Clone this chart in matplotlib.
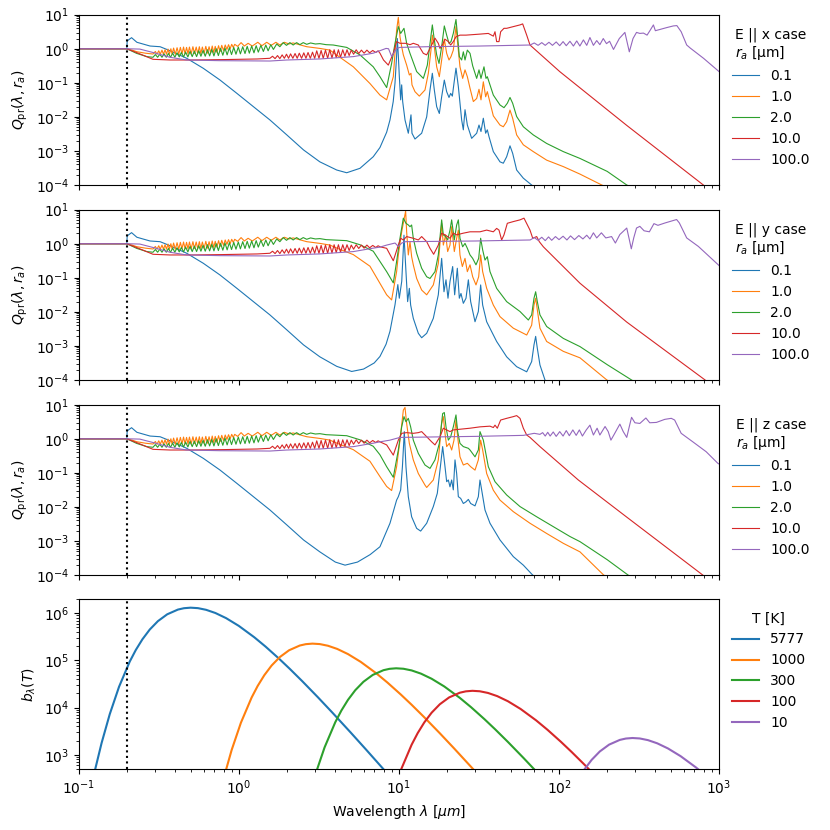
import matplotlib
matplotlib.use("Agg")
import matplotlib.pyplot as plt
import numpy as np

radii = ["0.1", "1.0", "2.0", "10.0", "100.0"]
temps = ["5777", "1000", "300", "100", "10"]
cases = ["x", "y", "z"]

# Q_pr curves as (wavelength [um], log10 Q_pr)
# short-wavelength part, same for the three cases
blue_short = [(0.1, 0), (0.199, 0), (0.2, 0.23), (0.213, 0.325), (0.23, 0.19), (0.278, 0.08),
              (0.321, 0.06), (0.37, -0.057), (0.471, -0.28), (0.598, -0.574), (0.76, -0.917),
              (0.97, -1.31), (1.23, -1.70), (1.56, -2.09), (1.99, -2.53), (2.53, -2.97), (3.2, -3.32)]

orange_short = [(0.1, 0), (0.199, 0), (0.215, -0.04), (0.229, -0.086), (0.26, -0.13), (0.29, -0.155),
                (0.300, -0.08), (0.307, -0.16), (0.315, -0.06), (0.322, -0.16), (0.330, -0.04), (0.337, -0.16),
                (0.345, -0.03), (0.352, -0.16), (0.360, -0.01), (0.367, -0.16), (0.375, 0.0), (0.382, -0.16),
                (0.390, 0.02), (0.400, -0.16), (0.410, 0.03), (0.420, -0.16), (0.430, 0.04), (0.440, -0.15),
                (0.450, 0.05), (0.460, -0.15), (0.470, 0.04), (0.480, -0.15), (0.490, 0.05), (0.502, -0.15),
                (0.515, 0.06), (0.527, -0.14), (0.540, 0.05), (0.552, -0.14), (0.565, 0.06), (0.577, -0.14),
                (0.590, 0.05), (0.605, -0.13), (0.620, 0.07), (0.635, -0.13), (0.650, 0.06), (0.665, -0.12),
                (0.680, 0.08), (0.695, -0.11), (0.710, 0.07), (0.727, -0.10), (0.745, 0.09), (0.762, -0.08),
                (0.780, 0.10), (0.80, -0.05), (0.82, 0.11), (0.84, -0.02), (0.86, 0.12), (0.88, 0.0),
                (0.90, 0.13), (0.92, 0.04), (0.94, 0.13), (0.98, 0.07), (1.03, 0.18), (1.08, 0.08),
                (1.14, 0.16), (1.21, 0.08), (1.31, 0.19), (1.39, 0.09), (1.49, 0.19), (1.59, 0.10),
                (1.7, 0.19), (1.8, 0.11), (1.92, 0.19), (2.05, 0.14), (2.18, 0.17), (2.65, 0.06),
                (3.2, 0.01), (3.7, -0.04)]

green_short = [(0.1, 0), (0.199, 0), (0.229, -0.135), (0.265, -0.23), (0.29, -0.25),
               (0.300, -0.17), (0.310, -0.25), (0.320, -0.16), (0.330, -0.25), (0.340, -0.15), (0.351, -0.25),
               (0.362, -0.14), (0.373, -0.25), (0.385, -0.13), (0.397, -0.25), (0.410, -0.12), (0.423, -0.24),
               (0.436, -0.11), (0.450, -0.24), (0.464, -0.10), (0.479, -0.24), (0.494, -0.08), (0.510, -0.23),
               (0.526, -0.07), (0.543, -0.23), (0.560, -0.06), (0.578, -0.22), (0.596, -0.05), (0.615, -0.22),
               (0.635, -0.03), (0.655, -0.21), (0.676, -0.02), (0.697, -0.21), (0.72, 0.0), (0.743, -0.20),
               (0.767, 0.01), (0.792, -0.19), (0.817, 0.02), (0.843, -0.18), (0.870, 0.03), (0.898, -0.17),
               (0.927, 0.04), (0.957, -0.16), (0.99, 0.05), (1.02, -0.15), (1.055, 0.06), (1.09, -0.14),
               (1.125, 0.07), (1.16, -0.13), (1.2, 0.08), (1.24, -0.12), (1.28, 0.09), (1.32, -0.10),
               (1.37, 0.10), (1.42, -0.08), (1.47, 0.11), (1.52, -0.06), (1.58, 0.12), (1.64, -0.02),
               (1.72, 0.14), (1.8, 0.06), (1.89, 0.18), (1.98, 0.10), (2.08, 0.18), (2.18, 0.11),
               (2.29, 0.18), (2.4, 0.12), (2.52, 0.18), (2.65, 0.13), (2.8, 0.17), (3.0, 0.14),
               (3.2, 0.15), (3.5, 0.12), (3.88, 0.11)]

red_short = [(0.1, 0), (0.199, 0), (0.23, -0.115), (0.29, -0.31), (0.37, -0.33), (0.5, -0.33),
             (0.76, -0.32), (1.0, -0.31), (1.3, -0.30), (1.56, -0.28),
             (1.62, -0.22), (1.68, -0.29), (1.74, -0.20), (1.8, -0.29), (1.86, -0.18), (1.92, -0.28),
             (1.98, -0.16), (2.04, -0.28), (2.1, -0.15), (2.17, -0.28), (2.24, -0.14), (2.31, -0.28),
             (2.38, -0.13), (2.46, -0.28), (2.54, -0.12), (2.62, -0.28), (2.7, -0.11), (2.79, -0.28),
             (2.88, -0.10), (2.97, -0.28), (3.06, -0.06), (3.16, -0.28), (3.26, -0.05), (3.36, -0.28),
             (3.47, -0.04), (3.58, -0.28), (3.69, -0.03), (3.81, -0.27), (3.93, -0.03), (4.05, -0.26),
             (4.18, -0.03), (4.31, -0.25), (4.45, -0.03), (4.59, -0.22), (4.73, -0.03), (4.88, -0.20),
             (5.03, -0.04), (5.2, -0.16), (5.4, -0.03), (5.6, -0.14), (5.82, -0.04), (6.05, -0.13),
             (6.3, -0.04), (6.55, -0.12), (6.85, -0.05), (7.15, -0.11), (7.4, -0.06)]

purple_short = [(0.1, 0), (0.2, 0), (0.24, -0.01), (0.29, -0.11), (0.37, -0.25), (0.47, -0.33),
                (0.76, -0.35), (1.56, -0.36), (1.99, -0.33), (3.2, -0.30), (5.2, -0.23), (6.9, -0.13)]

# E || x
x_blue = [(4.08, -3.56), (4.71, -3.64), (5.7, -3.51), (6.9, -3.17), (7.6, -2.9), (8.37, -2.45),
          (8.78, -2.09), (9.2, -1.55), (9.44, -1.0), (9.66, -0.2), (9.76, 0.30), (9.9, -0.2),
          (10.04, -0.8), (10.24, -1.5), (10.39, -1.06), (10.54, -1.55), (10.9, -2.09), (11.43, -2.48),
          (11.88, -1.94), (12.05, -2.48), (12.58, -2.65), (13.85, -2.48), (14.89, -2.0), (15.62, -1.21),
          (16.15, -0.72), (16.62, -1.21), (17.19, -1.70), (17.86, -1.9), (18.47, -1.41), (19.19, -0.92),
          (19.85, -1.26), (20.53, -1.43), (21.03, -1.31), (21.54, -1.39), (22.06, -1.01), (22.7, -0.57),
          (23.48, -1.11), (24.63, -2.09), (25.23, -2.38), (25.85, -1.79), (26.73, -2.24), (28.44, -2.63),
          (30.57, -2.48), (31.61, -2.24), (32.53, -2.43), (33.64, -2.04), (34.79, -2.48), (35.63, -2.38),
          (36.5, -2.58), (38.85, -3.02), (42.76, -3.32), (44.86, -3.36), (47.07, -3.17), (49.38, -2.85),
          (51.31, -3.07), (54.35, -3.56), (59.83, -3.80), (67.45, -4.0), (80, -4.3)]
x_orange = [(4.07, -0.18), (5.18, -0.53), (6.58, -1.02), (7.6, -1.36), (8.37, -1.5), (9.21, -0.82),
            (9.66, 0.55), (9.9, 0.92), (10.14, 0.35), (10.39, 0.06), (10.64, -0.18), (11.16, -0.48),
            (11.6, -0.77), (11.88, -0.72), (12.05, -1.06), (12.58, -1.26), (13.39, -1.39), (14.53, -1.21),
            (15.25, -0.72), (15.84, -0.04), (16.15, 0.40), (16.62, 0.06), (17.19, -0.53), (17.86, -0.82),
            (18.47, -0.33), (19.19, 0.28), (19.85, -0.135), (20.53, -0.33), (21.13, -0.23), (21.84, -0.04),
            (22.7, 0.65), (23.25, 0.16), (24.04, -0.53), (24.99, -0.87), (25.85, -0.62), (26.73, -0.82),
            (27.78, -1.16), (29.14, -1.55), (30.57, -1.46), (31.61, -1.19), (32.53, -1.5), (33.64, -0.97),
            (34.79, -1.41), (35.63, -1.26), (36.5, -1.46), (38.85, -1.97), (42.76, -2.24), (44.86, -2.29),
            (47.07, -2.14), (49.38, -1.8), (51.31, -2.04), (54.35, -2.53), (59.83, -2.82), (69.07, -3.02),
            (83.7, -3.27), (106.4, -3.46), (135.2, -3.68), (185, -4.0), (230, -4.2)]
x_green = [(4.71, 0.04), (5.7, -0.18), (6.9, -0.53), (7.6, -0.82), (8.37, -1.14), (8.99, -0.43),
           (9.44, 0.16), (9.9, 0.65), (10.24, 0.45), (10.74, 0.60), (11.16, 0.16), (11.71, -0.135),
           (12.89, -0.67), (14.19, -0.87), (15.03, -0.48), (15.62, 0.16), (16.15, 0.70), (16.62, 0.26),
           (17.19, -0.18), (17.78, -0.43), (18.47, 0.06), (19.19, 0.67), (19.85, 0.40), (20.53, 0.16),
           (21.13, 0.21), (21.84, 0.45), (22.7, 0.86), (23.25, 0.35), (23.82, -0.23), (24.63, -0.33),
           (25.23, -0.09), (25.85, -0.33), (26.73, -0.04), (27.78, -0.135), (28.86, -0.5), (30.57, -0.87),
           (31.61, -0.62), (32.53, -0.87), (33.96, -0.53), (34.96, -0.87), (35.63, -0.82), (36.5, -0.97),
           (38.85, -1.36), (42.76, -1.65), (45.29, -1.73), (47.52, -1.6), (49.38, -1.43), (51.31, -1.6),
           (54.35, -1.99), (59.83, -2.29), (69.07, -2.53), (83.7, -2.78), (106.4, -3.02), (135.2, -3.22),
           (200, -3.6), (265, -4.0), (330, -4.2)]
x_red = [(7.6, -0.13), (8.0, -0.33), (8.57, -0.48), (9.21, -0.135), (9.66, 0.21), (10.14, 0.16),
         (11.0, 0.16), (11.71, 0.12), (12.28, 0.16), (13.2, 0.11), (14.19, -0.135), (14.89, -0.18),
         (15.62, 0.01), (16.38, 0.21), (16.78, 0.31), (17.6, 0.16), (18.03, 0.01), (18.65, 0.11),
         (19.38, 0.28), (20.33, 0.21), (21.03, 0.11), (21.84, 0.21), (22.7, 0.35), (24.04, 0.40),
         (26.22, 0.40), (32.06, 0.43), (36.15, 0.45), (38.85, 0.37), (39.8, 0.50), (40.75, 0.21),
         (42.15, 0.21), (43.17, 0.50), (45.29, 0.60), (47.07, 0.60), (51.8, 0.65), (57.02, 0.70),
         (59.26, 0.73), (62.8, 0.40), (65.85, 0.11), (101, -0.67), (265, -2.25), (798, -4.0), (1000, -4.35)]
x_purple = [(8.3, 0.01), (8.6, 0.0), (9.0, -0.23), (9.66, 0.01), (10.14, 0.04), (15, 0.06), (32, 0.08),
            (66, 0.11), (70, 0.17), (74, 0.10), (78, 0.18), (82, 0.10), (86.5, 0.19), (91, 0.10), (96, 0.20),
            (101, 0.09), (106, 0.21), (111, 0.09), (117, 0.22), (123, 0.08), (129, 0.23), (135, 0.08),
            (142, 0.26), (149, 0.10), (156, 0.33), (164, 0.10), (172, 0.24), (180, 0.12), (189, 0.30),
            (198, 0.15), (207, 0.22), (219, -0.02), (238, 0.30), (258, 0.48), (275, -0.09), (290, 0.30),
            (305, 0.48), (320, 0.45), (337, 0.46), (355, 0.40), (372, 0.55), (389, 0.70), (400, 0.53),
            (430, 0.57), (470, 0.62), (518, 0.67), (545, 0.68), (580, 0.50), (628, 0.11), (661, 0.02),
            (800, -0.28), (1000, -0.67)]

# E || y
y_blue = [(4.08, -3.6), (5.06, -3.75), (6.0, -3.68), (7.0, -3.5), (7.6, -3.31), (8.3, -2.95), (8.78, -2.57),
          (9.44, -1.79), (9.83, -1.2), (10.04, -1.6), (10.4, -1.1), (10.74, 0.25), (11.05, -0.82),
          (11.32, -1.7), (11.6, -1.31), (11.82, -1.8), (12.28, -2.19), (13.2, -2.63), (13.85, -2.76),
          (14.89, -2.63), (16.38, -2.19), (17.6, -1.50), (18.47, -0.43), (19.1, -1.41), (19.66, -1.06),
          (20.23, -1.6), (20.82, -1.11), (21.64, -0.67), (22.27, -1.5), (23.14, -0.72), (23.82, -1.6),
          (24.39, -1.46), (25.23, -1.75), (26.22, -1.6), (27.12, -1.06), (28.04, -1.70), (29.85, -2.29),
          (31.31, -1.99), (32.37, -1.21), (33.32, -1.80), (35.3, -2.29), (40.75, -2.87), (47.07, -3.32),
          (54.35, -3.61), (62.8, -3.76), (67.45, -3.46), (69.75, -2.97), (71.44, -2.72), (73.17, -3.07),
          (76.0, -3.56), (81.7, -4.0), (90, -4.3)]
y_orange = [(4.07, -0.125), (5.18, -0.32), (6.58, -0.66), (7.6, -1.16), (8.37, -1.5), (8.99, -1.65),
            (9.66, -0.82), (9.9, -0.33), (10.39, 0.35), (11.0, 0.96), (11.16, 0.35), (11.43, -0.33),
            (11.71, 0.06), (11.99, -0.38), (12.28, -0.62), (12.89, -1.02), (13.85, -1.36), (14.89, -1.5),
            (16.38, -1.21), (17.6, -0.58), (18.47, 0.60), (18.92, -0.04), (19.56, 0.26), (20.14, -0.23),
            (20.82, -0.04), (21.33, 0.50), (22.16, -0.23), (22.92, 0.16), (23.48, 0.40), (24.04, -0.33),
            (24.87, -0.67), (25.85, -0.43), (26.73, -0.82), (27.78, -0.62), (28.86, -0.97), (30.27, -1.21),
            (31.46, -0.97), (32.37, -0.33), (33.32, -0.82), (35.3, -1.31), (38.85, -1.80), (42.76, -2.14),
            (51.8, -2.48), (62.8, -2.68), (67.45, -2.39), (69.75, -1.80), (71.44, -1.6), (73.5, -2.0),
            (76.0, -2.48), (83.7, -2.87), (106.4, -3.16), (135.2, -3.35), (199, -4.0), (250, -4.25)]
y_green = [(4.71, 0.09), (5.7, -0.03), (6.9, -0.22), (7.6, -0.52), (8.37, -0.82), (9.21, -1.15),
           (9.66, -0.52), (10.14, 0.16), (10.64, 0.75), (11.05, 0.60), (11.43, 0.55), (11.71, 0.50),
           (11.99, 0.55), (12.28, 0.16), (12.89, -0.28), (13.85, -0.72), (14.89, -0.97), (15.62, -1.02),
           (16.78, -0.82), (17.6, -0.33), (18.47, 0.70), (18.92, 0.26), (19.56, 0.21), (20.14, 0.11),
           (20.82, 0.40), (21.33, 0.70), (22.16, 0.11), (22.92, 0.55), (23.48, 0.70), (24.04, 0.16),
           (24.99, -0.09), (25.85, 0.01), (26.73, -0.135), (27.78, -0.33), (28.86, -0.43), (30.27, -0.62),
           (31.46, -0.43), (32.37, 0.16), (33.32, -0.18), (34.46, -0.48), (35.63, -0.38), (37.03, -0.82),
           (40.75, -1.31), (47.07, -1.70), (57.02, -1.99), (64.3, -2.24), (67.45, -2.09), (69.75, -1.60),
           (71.44, -1.41), (73.17, -1.70), (76.0, -2.09), (83.7, -2.43), (106.4, -2.78), (135.2, -3.02),
           (200, -3.55), (284, -4.0), (350, -4.25)]
y_red = [(7.6, -0.09), (8.37, -0.135), (9.21, -0.5), (9.9, -0.04), (10.24, 0.16), (10.64, 0.11),
         (11.16, 0.21), (12.28, 0.16), (13.2, 0.11), (13.85, 0.21), (14.89, 0.06), (15.62, -0.135),
         (16.46, -0.31), (17.6, -0.04), (18.47, 0.31), (19.38, 0.26), (20.82, 0.16), (21.84, 0.31),
         (22.92, 0.26), (25.23, 0.31), (27.78, 0.35), (32.06, 0.35), (35.3, 0.40), (38.85, 0.35),
         (40.75, 0.45), (42.15, 0.40), (43.79, 0.11), (45.29, 0.26), (47.52, 0.60), (51.8, 0.65),
         (57.02, 0.70), (60.4, 0.75), (65.85, 0.40), (68.5, 0.16), (72.5, 0.21), (75.3, 0.06),
         (79.8, -0.09), (135.2, -1.16), (265, -2.3), (818, -4.0), (1000, -4.35)]
y_purple = [(7.6, -0.10), (8.37, -0.04), (9.44, 0.02), (9.9, -0.08), (10.4, 0.02), (11, 0.06), (30, 0.08),
            (66, 0.11), (70, 0.18), (74, 0.10), (78, 0.19), (82, 0.09), (86, 0.20), (90, 0.10), (95, 0.21),
            (100, 0.12), (106, 0.22), (112, 0.11), (118, 0.23), (125, 0.12), (133, 0.24), (141, 0.14),
            (149, 0.25), (156, 0.14), (164, 0.32), (172, 0.17), (184, 0.32), (196, 0.17), (213, 0.21),
            (225, 0.02), (240, 0.27), (265, 0.46), (275, 0.12), (283, -0.15), (293, 0.17), (305, 0.46),
            (320, 0.51), (340, 0.38), (367, 0.35), (392, 0.59), (415, 0.54), (460, 0.61), (543, 0.71),
            (565, 0.61), (628, 0.17), (743, -0.08), (1000, -0.64)]

# E || z
z_blue = [(4.0, -3.62), (4.6, -3.71), (5.5, -3.62), (6.6, -3.4), (7.6, -3.17), (8.78, -2.48), (9.66, -1.80),
          (9.9, -1.70), (10.24, -1.5), (10.5, -0.82), (10.79, 0.21), (11.05, -0.82), (11.43, -1.70),
          (11.99, -2.29), (12.89, -2.63), (13.65, -2.71), (14.89, -2.48), (16.38, -1.99), (17.35, -1.60),
          (18.03, -0.92), (18.74, -0.23), (19.38, -0.82), (19.85, -1.26), (20.33, -1.21), (20.82, -1.41),
          (21.33, -1.21), (21.84, -1.5), (22.38, -0.62), (22.92, -1.02), (23.48, -1.70), (24.28, -1.75),
          (25.23, -1.90), (26.22, -1.85), (27.12, -1.78), (28.04, -1.90), (29.85, -1.97), (31.31, -1.70),
          (32.06, -1.21), (32.84, -1.5), (34.46, -2.09), (37.03, -2.48), (42.76, -2.97), (51.8, -3.46),
          (59.83, -3.71), (67.45, -3.97), (80, -4.3)]
z_orange = [(4.07, -0.125), (5.18, -0.32), (6.58, -0.66), (7.6, -1.11), (8.37, -1.4), (8.99, -1.52),
            (9.66, -0.82), (10.14, -0.04), (10.64, 0.84), (10.9, 0.92), (11.16, 0.45), (11.6, -0.135),
            (12.28, -0.62), (13.2, -1.02), (14.53, -1.36), (14.89, -1.43), (16.38, -1.21), (17.6, -0.62),
            (18.47, 0.45), (18.92, 0.65), (19.38, 0.16), (19.85, -0.23), (20.62, -0.135), (21.33, -0.33),
            (22.06, -0.04), (22.7, 0.55), (23.25, 0.06), (24.04, -0.53), (25.23, -0.77), (26.73, -0.72),
            (28.04, -0.82), (29.85, -0.92), (31.31, -0.62), (32.37, -0.04), (33.32, -0.33), (35.3, -1.02),
            (38.85, -1.51), (42.76, -1.80), (51.8, -2.14), (65.85, -2.48), (83.7, -2.78), (106.4, -3.07),
            (135.2, -3.32), (190, -4.0), (250, -4.3)]
z_green = [(4.71, 0.09), (5.7, -0.03), (6.9, -0.22), (7.6, -0.47), (8.37, -0.82), (9.21, -1.13),
           (9.9, -0.33), (10.39, 0.35), (10.74, 0.65), (11.05, 0.50), (11.43, 0.60), (11.82, 0.35),
           (12.28, -0.04), (13.2, -0.43), (14.53, -0.77), (15.62, -0.87), (16.78, -0.62), (17.86, -0.135),
           (18.74, 0.74), (19.19, 0.77), (19.66, 0.35), (20.33, -0.04), (21.03, 0.06), (21.84, 0.35),
           (22.7, 0.70), (23.25, 0.21), (24.04, -0.135), (25.23, -0.23), (27.12, -0.28), (27.78, -0.33),
           (29.85, -0.53), (31.31, -0.33), (32.06, 0.21), (33.64, -0.04), (36.15, -0.82), (39.8, -1.26),
           (47.07, -1.65), (57.02, -1.99), (72.5, -2.29), (92.1, -2.58), (117.1, -2.87), (135.2, -3.02),
           (200, -3.55), (270, -4.0), (340, -4.25)]
z_red = [(7.6, -0.09), (8.37, -0.18), (9.21, -0.48), (9.9, -0.04), (10.39, 0.16), (11.16, 0.18),
         (12.28, 0.16), (13.2, 0.18), (13.85, 0.21), (14.89, 0.06), (16.0, -0.09), (16.78, -0.18),
         (18.03, 0.06), (18.92, 0.31), (19.85, 0.26), (20.82, 0.21), (21.84, 0.26), (24.04, 0.28),
         (27.78, 0.31), (32.06, 0.35), (37.03, 0.37), (38.85, 0.33), (39.8, 0.40), (41.14, 0.31),
         (43.17, 0.55), (47.07, 0.60), (51.8, 0.65), (54.35, 0.68), (57.02, 0.60), (59.83, 0.31),
         (62.8, 0.11), (65.85, 0.04), (76, -0.23), (132, -1.21), (265, -2.3), (791, -4.0), (1000, -4.35)]
z_purple = [(7.6, -0.09), (8.78, -0.04), (10.14, 0.04), (30, 0.07), (60, 0.10), (70, 0.16), (76, 0.13),
            (79, 0.18), (82, 0.08), (85, 0.19), (88, 0.08), (92, 0.20), (96, 0.07), (101, 0.21), (106, 0.08),
            (111, 0.24), (116, 0.09), (122, 0.26), (128, 0.10), (134, 0.26), (140, 0.08), (148, 0.26),
            (156, 0.40), (164, 0.11), (173, 0.31), (180, 0.11), (194, 0.36), (203, 0.21), (211, -0.04),
            (220, 0.11), (240, 0.43), (252, 0.21), (265, 0.04), (275, 0.36), (284, 0.63), (298, 0.47),
            (320, 0.45), (349, 0.61), (369, 0.47), (406, 0.48), (458, 0.57), (503, 0.60), (528, 0.55),
            (580, 0.16), (686, -0.09), (831, -0.38), (983, -0.72), (1000, -0.74)]

# b_lambda(T): wavelength [um] and value
bb_wl_5777 = [0.1038, 0.1132, 0.1245, 0.1384, 0.1557, 0.1779, 0.2075, 0.2264, 0.2491, 0.2767, 0.3113,
              0.3558, 0.4151, 0.4528, 0.4981, 0.5535, 0.6226, 0.7116, 0.8302, 0.9962, 1.2453, 1.4650,
              1.7790, 2.0755, 2.4906, 3.1132, 3.8316, 4.9811, 6.2264, 8.3019, 9.9623]
bb_5777 = [18.6, 88.9, 407.7, 1779, 7294, 27643, 94508, 166268, 280636, 450500, 679707, 948227,
           1194432, 1276644, 1310395, 1281404, 1180957, 1010906, 787016, 539822, 309626, 196179,
           108811, 66296, 35975, 16528, 7834, 2978, 1287, 429.3, 212.5]
bb_wl_1000 = [0.7194, 0.7993, 0.8993, 1.0277, 1.1990, 1.3080, 1.4388, 1.5987, 1.7985, 2.0554, 2.3980,
              2.6160, 2.8776, 3.1973, 3.5970, 4.1109, 4.7960, 5.7552, 7.194, 8.4635, 10.277, 11.990,
              14.388, 17.985, 22.135, 28.776, 35.97, 47.96]
bb_1000 = [70.58, 307.9, 1262.6, 4785, 16359, 28781, 48578, 77982, 117657, 164138, 206756, 220987,
           226829, 221811, 204424, 174988, 136232, 93443, 53596, 33959, 18835, 11476, 6227, 2861,
           1356, 515.4, 222.8, 74.3]
bb_wl_300 = [2.398, 2.6644, 2.9975, 3.4257, 3.9967, 4.360, 4.796, 5.3289, 5.995, 6.8514, 7.9933, 8.720,
             9.592, 10.658, 11.990, 13.703, 15.987, 19.184, 23.98, 28.212, 34.257, 39.967, 47.96,
             59.95, 73.785, 95.92]
bb_300 = [21.17, 92.38, 378.8, 1435.5, 4907.8, 8634, 14573, 23394, 35297, 49241, 62027, 66296, 68049,
          66543, 61327, 52496, 40870, 28033, 16079, 10188, 5650.6, 3442.7, 1868.2, 858.3, 406.8, 154.6]
bb_wl_100 = [8.9925, 10.277, 11.99, 13.08, 14.388, 15.987, 17.985, 20.554, 23.98, 26.16, 28.776, 31.973,
             35.97, 41.109, 47.96, 57.552, 71.94, 84.635, 102.77, 119.9, 143.88, 179.85]
bb_100 = [126.3, 478.5, 1635.9, 2878, 4857.8, 7798, 11766, 16414, 20676, 22099, 22683, 22181, 20442,
          17499, 13623, 9344, 5360, 3396, 1883.5, 1147.6, 622.7, 286.1]
bb_wl_10 = [130.8, 143.88, 159.87, 179.85, 205.54, 239.8, 261.6, 287.76, 319.73, 359.7, 411.09, 479.6,
            575.52, 719.4, 846.35]
bb_10 = [287.8, 485.8, 779.8, 1176.6, 1641.4, 2067.6, 2209.9, 2268.3, 2218.1, 2044.2, 1749.9, 1362.3,
         934.4, 536.0, 339.6]

case_curves = {
    "x": [blue_short + x_blue, orange_short + x_orange, green_short + x_green,
          red_short + x_red, purple_short + x_purple],
    "y": [blue_short + y_blue, orange_short + y_orange, green_short + y_green,
          red_short + y_red, purple_short + y_purple],
    "z": [blue_short + z_blue, orange_short + z_orange, green_short + z_green,
          red_short + z_red, purple_short + z_purple],
}
bb_curves = [(bb_wl_5777, bb_5777), (bb_wl_1000, bb_1000), (bb_wl_300, bb_300),
             (bb_wl_100, bb_100), (bb_wl_10, bb_10)]

fig = plt.figure(figsize=(8.3, 8.3), dpi=100)
left, width, height = 0.0952, 0.7711, 0.2052
bottoms = [0.7771, 0.5422, 0.3072, 0.0735]

ax_bb = fig.add_axes([left, bottoms[3], width, 0.2048])
axes = [fig.add_axes([left, b, width, height], sharex=ax_bb) for b in bottoms[:3]]

for ax, case in zip(axes, cases):
    for pts, r in zip(case_curves[case], radii):
        arr = np.array(pts)
        ax.plot(arr[:, 0], 10 ** arr[:, 1], lw=0.8, label=r)
    ax.axvline(0.2, color="k", ls=":", lw=1.5)
    ax.set_yscale("log")
    ax.set_ylim(1e-4, 1e1)
    ax.set_ylabel(r"$Q_{\rm pr}(\lambda, r_a)$")
    ax.tick_params(labelbottom=False)
    ax.legend(title=f"E || {case} case\n$r_a$ [µm]", loc="upper left",
              bbox_to_anchor=(1.0, 1.0), frameon=False)

for (wl, b), t in zip(bb_curves, temps):
    ax_bb.plot(wl, b, lw=1.5, label=t)
ax_bb.axvline(0.2, color="k", ls=":", lw=1.5)
ax_bb.set_xscale("log")
ax_bb.set_yscale("log")
ax_bb.set_xlim(0.1, 1000)
ax_bb.set_ylim(5e2, 2e6)
ax_bb.set_ylabel(r"$b_\lambda(T)$")
ax_bb.set_xlabel(r"Wavelength $\lambda$ [$\mu m$]")
ax_bb.legend(title="T [K]", loc="upper left", bbox_to_anchor=(1.0, 1.0), frameon=False)

fig.savefig("out.png", dpi=100)
